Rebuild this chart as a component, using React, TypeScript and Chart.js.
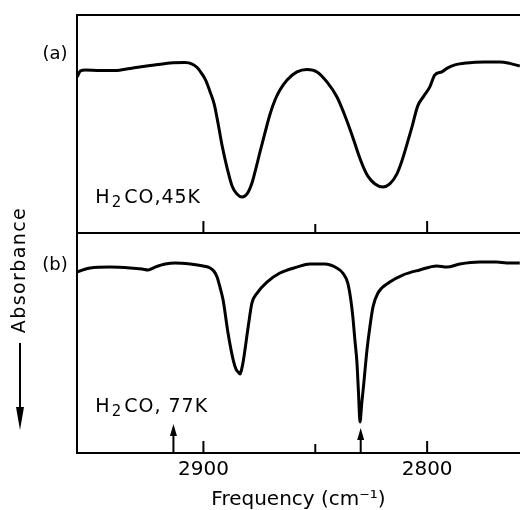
import React, { useEffect, useRef } from 'react';
import { Chart, registerables } from 'chart.js';

Chart.register(...registerables);

// ---------- data ----------
// Panel (a): H2CO, 45K  — frequency (cm^-1) and absorbance (arb. units, larger = more absorption, drawn downward)
const freqA = [2956.4, 2955.0, 2952.8, 2946.1, 2939.4, 2932.7, 2923.8, 2914.9, 2908.2, 2905.0, 2902.8, 2900.6, 2898.8, 2897.0, 2895.2, 2893.4, 2891.7, 2889.4, 2887.2, 2885.0, 2882.7, 2880.5, 2878.3, 2876.5, 2874.7, 2872.5, 2870.2, 2868.0, 2865.8, 2862.6, 2858.2, 2853.7, 2849.2, 2844.8, 2840.3, 2836.7, 2833.6, 2830.9, 2828.7, 2826.5, 2823.3, 2819.8, 2816.7, 2813.5, 2811.3, 2809.1, 2806.8, 2804.2, 2801.5, 2798.8, 2796.6, 2793.4, 2791.2, 2787.6, 2782.3, 2774.2, 2767.5, 2763.1, 2758.6];
const absA = [0.284, 0.257, 0.252, 0.255, 0.255, 0.245, 0.232, 0.220, 0.218, 0.225, 0.241, 0.271, 0.303, 0.353, 0.408, 0.500, 0.596, 0.702, 0.784, 0.821, 0.835, 0.821, 0.771, 0.702, 0.628, 0.541, 0.454, 0.390, 0.344, 0.298, 0.261, 0.250, 0.261, 0.307, 0.376, 0.463, 0.550, 0.633, 0.693, 0.739, 0.775, 0.789, 0.775, 0.729, 0.670, 0.596, 0.514, 0.417, 0.372, 0.330, 0.275, 0.261, 0.245, 0.229, 0.220, 0.216, 0.216, 0.222, 0.234];

// Panel (b): H2CO, 77K
const freqB = [2956.4, 2950.6, 2941.7, 2932.7, 2927.4, 2924.7, 2921.6, 2917.1, 2912.6, 2905.9, 2900.1, 2897.0, 2895.2, 2893.9, 2892.5, 2891.2, 2889.0, 2886.7, 2885.4, 2884.5, 2883.6, 2883.0, 2882.1, 2880.0, 2878.3, 2876.0, 2871.6, 2865.8, 2858.2, 2852.4, 2845.8, 2840.4, 2837.7, 2835.5, 2834.1, 2833.2, 2832.3, 2831.4, 2830.7, 2830.0, 2829.3, 2828.3, 2826.9, 2825.6, 2824.2, 2822.0, 2816.7, 2810.9, 2803.3, 2795.7, 2791.2, 2785.4, 2776.5, 2768.9, 2764.4, 2758.6];
const absB = [0.177, 0.159, 0.155, 0.159, 0.164, 0.168, 0.155, 0.141, 0.136, 0.141, 0.150, 0.159, 0.175, 0.200, 0.250, 0.305, 0.455, 0.577, 0.620, 0.632, 0.641, 0.623, 0.577, 0.427, 0.318, 0.273, 0.223, 0.182, 0.155, 0.141, 0.141, 0.159, 0.182, 0.227, 0.305, 0.382, 0.486, 0.586, 0.723, 0.859, 0.782, 0.682, 0.532, 0.427, 0.336, 0.273, 0.223, 0.191, 0.168, 0.150, 0.155, 0.141, 0.132, 0.132, 0.136, 0.136];

const tickMajor = [2900, 2800];
const tickMinor = [2850];
const arrowFreqs = [2913.4, 2829.7];
const arrowTips = [0.868, 0.886];

const panelLabels = ['(a)', '(b)'];
const sampleLabelsRest = ['CO,45K', 'CO, 77K'];
const sampleLabelFreq = 2948.3;
const sampleLabelLevels = [0.862, 0.814];
const panelLabelLevels = [0.18, 0.145];
const xTitle = 'Frequency (cm\u207B\u00B9)';
const yTitle = 'Absorbance';

// ---------- layout ----------
const FONT = '"DejaVu Sans", sans-serif';
const X_MIN = 2758.5;
const X_MAX = 2956.5;
const PANEL_A_H = 218;
const PANEL_B_H = 220;
const TOTAL_H = PANEL_A_H + PANEL_B_H;

const overlayPlugin = {
  id: 'overlay',
  afterDraw(chart: any) {
    const { ctx, chartArea: ca, scales } = chart;
    const x = scales.x;
    const ya = scales.ya;
    const yb = scales.yb;
    const sep = ya.getPixelForValue(1);
    ctx.save();
    ctx.strokeStyle = '#000';
    ctx.fillStyle = '#000';
    ctx.lineWidth = 2;
    ctx.lineCap = 'butt';

    // top frame line and panel separator
    ctx.beginPath();
    ctx.moveTo(ca.left - 1, ca.top);
    ctx.lineTo(ca.right, ca.top);
    ctx.moveTo(ca.left, sep);
    ctx.lineTo(ca.right, sep);
    ctx.stroke();

    // inward tick marks at the bottom of each panel
    ctx.beginPath();
    for (const base of [sep, ca.bottom]) {
      for (const v of tickMajor) {
        const px = x.getPixelForValue(v);
        ctx.moveTo(px, base);
        ctx.lineTo(px, base - 12);
      }
      for (const v of tickMinor) {
        const px = x.getPixelForValue(v);
        ctx.moveTo(px, base);
        ctx.lineTo(px, base - 9);
      }
    }
    ctx.stroke();

    // arrows in panel (b)
    arrowFreqs.forEach((f, i) => {
      const px = x.getPixelForValue(f);
      const tip = yb.getPixelForValue(arrowTips[i]);
      const headLen = 12;
      const headW = 3.5;
      ctx.beginPath();
      ctx.moveTo(px, ca.bottom);
      ctx.lineTo(px, tip + headLen - 1);
      ctx.stroke();
      ctx.beginPath();
      ctx.moveTo(px, tip);
      ctx.lineTo(px - headW, tip + headLen);
      ctx.lineTo(px + headW, tip + headLen);
      ctx.closePath();
      ctx.fill();
    });

    // panel labels
    ctx.font = `18px ${FONT}`;
    ctx.textAlign = 'center';
    ctx.textBaseline = 'middle';
    ctx.fillText(panelLabels[0], ca.left - 22, ya.getPixelForValue(panelLabelLevels[0]));
    ctx.fillText(panelLabels[1], ca.left - 22, yb.getPixelForValue(panelLabelLevels[1]));

    // sample labels (H2CO with subscript)
    const drawFormula = (x0: number, base: number, rest: string) => {
      ctx.textAlign = 'left';
      ctx.textBaseline = 'alphabetic';
      (ctx as any).letterSpacing = '1px';
      ctx.font = `19px ${FONT}`;
      ctx.fillText('H', x0, base);
      const wH = ctx.measureText('H').width;
      ctx.font = `15px ${FONT}`;
      ctx.fillText('2', x0 + wH + 1, base + 4);
      const w2 = ctx.measureText('2').width;
      ctx.font = `19px ${FONT}`;
      ctx.fillText(rest, x0 + wH + w2 + 3, base);
      (ctx as any).letterSpacing = '0px';
    };
    const lx = x.getPixelForValue(sampleLabelFreq);
    drawFormula(lx, ya.getPixelForValue(sampleLabelLevels[0]), sampleLabelsRest[0]);
    drawFormula(lx, yb.getPixelForValue(sampleLabelLevels[1]), sampleLabelsRest[1]);

    // rotated y-axis label with downward arrow
    ctx.save();
    ctx.translate(20, 270);
    ctx.rotate(-Math.PI / 2);
    ctx.font = `19px ${FONT}`;
    (ctx as any).letterSpacing = '1.4px';
    ctx.textAlign = 'center';
    ctx.textBaseline = 'middle';
    ctx.fillText(yTitle, 0, 0);
    (ctx as any).letterSpacing = '0px';
    ctx.restore();
    ctx.beginPath();
    ctx.moveTo(20, 343);
    ctx.lineTo(20, 410);
    ctx.stroke();
    ctx.beginPath();
    ctx.moveTo(20, 430);
    ctx.lineTo(16, 407);
    ctx.lineTo(24, 407);
    ctx.closePath();
    ctx.fill();

    ctx.restore();
  },
};

export default function App() {
  const ref = useRef<HTMLCanvasElement>(null);

  useEffect(() => {
    if (!ref.current) return;
    Chart.defaults.font.family = FONT;
    const chart = new Chart(ref.current, {
      type: 'line',
      data: {
        datasets: [
          {
            label: 'H2CO, 45K',
            data: freqA.map((f, i) => ({ x: f, y: absA[i] })),
            yAxisID: 'ya',
            borderColor: '#000',
            borderWidth: 3,
            pointRadius: 0,
            fill: false,
            cubicInterpolationMode: 'monotone',
          },
          {
            label: 'H2CO, 77K',
            data: freqB.map((f, i) => ({ x: f, y: absB[i] })),
            yAxisID: 'yb',
            borderColor: '#000',
            borderWidth: 3,
            pointRadius: 0,
            fill: false,
            cubicInterpolationMode: 'monotone',
          },
        ],
      },
      options: {
        responsive: false,
        animation: false,
        events: [],
        layout: { padding: { top: 15, left: 0, right: 0, bottom: 0 } },
        plugins: {
          legend: { display: false },
          tooltip: { enabled: false },
        },
        scales: {
          x: {
            type: 'linear',
            position: 'bottom',
            reverse: true,
            min: X_MIN,
            max: X_MAX,
            afterFit: (s: any) => {
              s.height = 57;
            },
            afterBuildTicks: (s: any) => {
              s.ticks = tickMajor.map((v) => ({ value: v }));
            },
            grid: { display: false, drawTicks: false },
            border: { display: true, color: '#000', width: 2 },
            ticks: {
              color: '#000',
              font: { family: FONT, size: 20, lineHeight: 1 },
              padding: 7,
              maxRotation: 0,
              autoSkip: false,
              callback: (v: any) => String(v),
            },
            title: {
              display: true,
              text: xTitle,
              color: '#000',
              font: { family: FONT, size: 20, lineHeight: 1 },
              padding: 0,
            },
          },
          ya: {
            type: 'linear',
            position: 'left',
            reverse: true,
            min: 0,
            max: TOTAL_H / PANEL_A_H,
            afterFit: (s: any) => {
              s.width = 77;
            },
            ticks: { display: false },
            grid: { display: false },
            border: { display: true, color: '#000', width: 2 },
          },
          yb: {
            type: 'linear',
            position: 'left',
            reverse: true,
            min: -PANEL_A_H / PANEL_B_H,
            max: 1,
            display: false,
          },
        },
      } as any,
      plugins: [overlayPlugin],
    });
    return () => chart.destroy();
  }, []);

  return (
    <div style={{ position: 'absolute', left: 0, top: 0, width: 520, height: 510, background: '#fff' }}>
      <canvas ref={ref} width={520} height={510} style={{ width: 520, height: 510, display: 'block' }} />
    </div>
  );
}
